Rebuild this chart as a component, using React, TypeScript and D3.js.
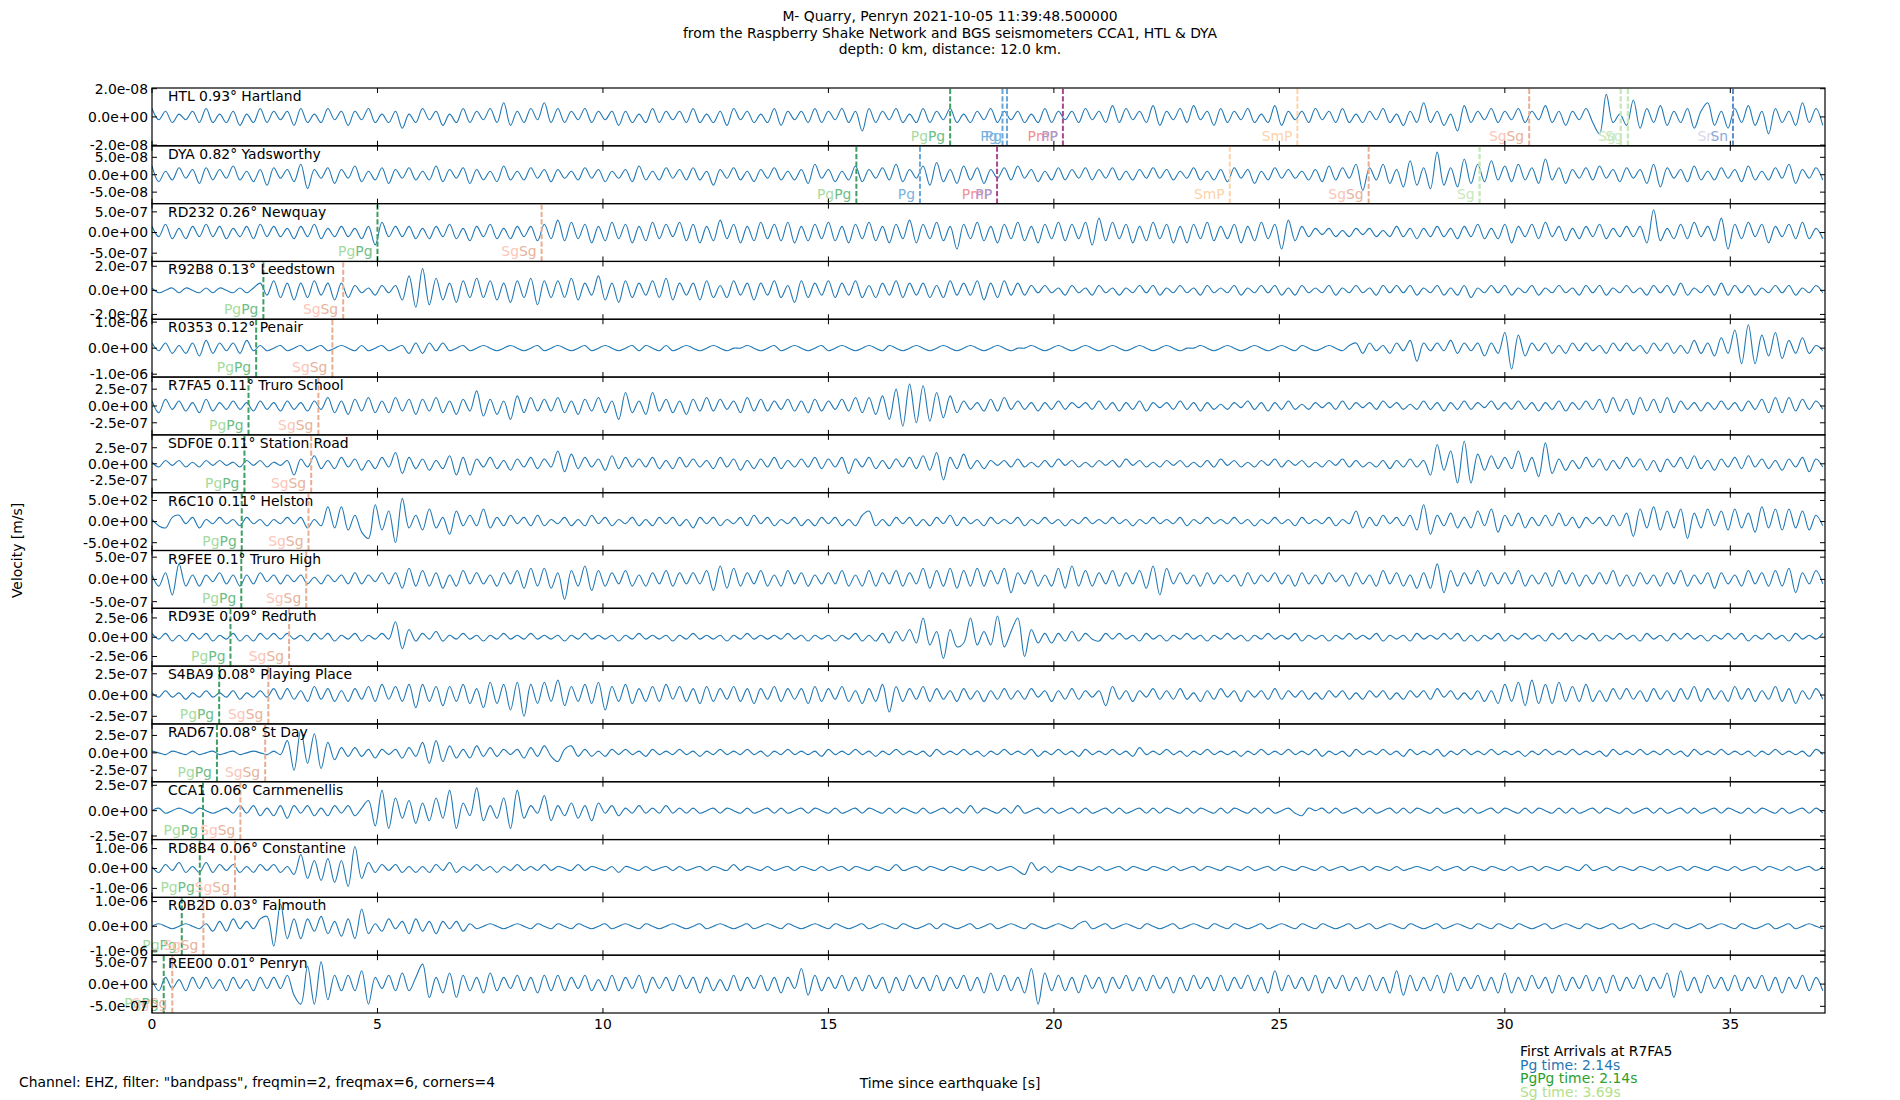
import React from "react";
import * as d3 from "d3";

const width = 1900;
const height = 1100;
const plot = { left: 152, right: 1825, top: 88, bottom: 1013 };
const DT = 0.15; // seconds between read-off samples
const X_MAX = 37.1;
const FONT = "DejaVu Sans";
const FS = 13.9;

const stationLabels = [
  "HTL 0.93° Hartland", "DYA 0.82° Yadsworthy", "RD232 0.26° Newquay", "R92B8 0.13° Leedstown",
  "R0353 0.12° Penair", "R7FA5 0.11° Truro School", "SDF0E 0.11° Station Road", "R6C10 0.11° Helston",
  "R9FEE 0.1° Truro High", "RD93E 0.09° Redruth", "S4BA9 0.08° Playing Place", "RAD67 0.08° St Day",
  "CCA1 0.06° Carnmenellis", "RD8B4 0.06° Constantine", "R0B2D 0.03° Falmouth", "REE00 0.01° Penryn",
];
const tickValues = [2e-8, 5e-8, 5e-7, 2e-7, 1e-6, 2.5e-7, 2.5e-7, 5e2, 5e-7, 2.5e-6, 2.5e-7, 2.5e-7, 2.5e-7, 1e-6, 1e-6, 5e-7];
const yLimits = [2.05e-8, 8.3e-8, 7e-7, 2.4e-7, 1.11e-6, 4.3e-7, 4.5e-7, 685, 6.5e-7, 3.75e-6, 3.4e-7, 4.15e-7, 2.85e-7, 1.45e-6, 1.17e-6, 6.5e-7];
const xTicks = [0, 5, 10, 15, 20, 25, 30, 35];

// velocities in tenths of each station's tick value, one sample every DT seconds
const htl = [
  3,-1,2,-2,1,-1,2,-2,3,-2,1,-2,2,-3,1,-2,3,-2,2,-1,
  2,-3,3,-2,1,-2,3,-1,2,-3,2,-1,3,-2,1,-2,2,-4,1,-2,
  3,-1,2,-3,1,-2,3,-2,2,-1,3,-2,5,-3,2,-2,3,-1,5,-2,
  3,-2,2,-1,3,-2,2,-1,2,-3,2,-2,1,-2,3,-2,2,-1,2,-2,
  3,-2,1,-2,2,-3,3,-1,2,-2,1,-2,3,-3,2,-1,2,-2,3,-2,
  2,-1,3,-2,2,-5,3,-2,2,-1,3,-2,1,-2,3,-2,2,-1,3,-2,
  1,-2,2,-1,3,-2,2,-1,2,-2,1,-2,3,-2,2,-1,2,-2,3,-1,
  2,-2,4,-2,3,-1,2,-2,4,-3,2,-1,3,-2,4,-1,2,-3,3,-2,
  2,-1,3,-2,1,-2,4,-3,2,-1,2,-2,3,-1,2,-2,3,-2,1,-2,
  2,-1,3,-2,1,-3,2,-2,5,-2,2,-3,1,-5,4,-2,2,-1,3,-2,
  2,-1,3,-2,2,-1,4,-2,2,-3,2,-1,3,-2,-6,8,-2,1,-3,6,
  -4,3,-2,4,-3,2,-2,3,-4,2,5,-3,2,-4,3,-2,4,-3,2,-6,
  3,-2,2,-3,5,-2,3,-3,
];
const dya = [
  5,-4,2,-3,4,-2,3,-5,4,-3,3,-2,5,-3,2,-4,3,-6,4,-2,
  3,-4,6,-8,3,-2,4,-5,3,-2,5,-4,2,-3,4,-5,3,-2,4,-3,
  2,-3,5,-4,3,-2,4,-5,3,-3,2,-4,5,-3,2,-3,4,-2,3,-4,
  3,-2,2,-3,4,-2,3,-4,2,-2,3,-4,5,-3,2,-3,4,-2,3,-3,
  4,-3,2,-6,3,-2,4,-3,2,-4,3,-2,4,-3,2,-3,3,-5,6,-2,
  3,-4,2,-3,5,-4,3,-2,4,-3,6,-4,3,-2,5,-6,7,-4,3,-5,
  5,-3,4,-5,3,-2,4,-3,5,-2,3,-4,2,-3,4,-3,3,-2,4,-3,
  3,-2,4,-3,2,-3,3,-2,4,-2,3,-3,2,-2,4,-3,2,-3,3,-4,
  4,-2,3,-5,2,-3,4,-2,3,-2,2,-3,3,-4,5,-3,4,-2,6,-9,
  4,-3,6,-5,3,-7,8,-6,4,-8,13,-6,4,-7,9,-5,6,-4,8,-3,
  5,-4,6,-3,4,-5,9,-3,4,-5,3,-2,4,-3,5,-2,3,-4,4,-2,
  3,-5,6,-7,4,-2,3,-4,5,-3,2,-3,4,-2,3,-4,5,-3,2,-3,
  4,-2,6,-5,3,-2,4,-3,
];
const rd232 = [
  3,-2,4,-3,2,-3,3,-2,4,-2,3,-3,2,-2,3,-3,4,-2,3,-2,
  2,-3,3,-2,4,-3,2,-2,3,-2,2,-3,3,-6,5,-2,3,-2,3,-3,
  2,-3,3,-2,4,-3,2,-4,3,-2,4,-3,2,-3,3,-2,3,-4,4,-3,
  6,-4,5,-3,4,-5,3,-4,5,-3,4,-5,3,-4,5,-3,4,-2,5,-4,
  4,-5,3,-4,6,-3,4,-5,3,-4,5,-3,4,-4,5,-5,3,-4,4,-3,
  5,-4,3,-5,4,-3,5,-4,3,-5,4,-3,6,-5,4,-3,5,-4,3,-8,
  4,-3,5,-4,3,-5,4,-3,5,-4,3,-5,4,-3,5,-4,4,-3,5,-6,
  7,-4,5,-3,4,-5,3,-4,5,-3,4,-5,3,-5,4,-3,5,-4,3,-3,
  4,-5,3,-4,5,-3,4,-8,6,-4,3,-2,2,-1,2,-2,1,-2,2,-1,
  2,-2,1,-2,3,-2,2,-3,2,-2,3,-2,2,-3,3,-2,4,-3,2,-3,
  4,-5,3,-2,4,-3,5,-2,3,-4,2,-3,3,-2,4,-3,2,-2,3,-2,
  3,-5,11,-4,2,-3,4,-3,5,-2,3,-4,7,-8,4,-3,5,-2,4,-5,
  3,-2,4,-3,5,-3,2,-3,
];
const r92b8 = [
  1,-1,0,1,-1,1,0,-1,1,-1,1,0,-1,1,-1,1,3,-2,4,-3,
  3,-4,3,-3,4,-2,3,-4,3,-3,2,-1,1,-2,2,-1,2,-4,6,-7,
  9,-6,5,-4,3,-5,4,-3,5,-3,4,-4,3,-5,4,-3,5,-6,4,-3,
  4,-3,5,-4,3,-2,6,-4,3,-5,4,-3,3,-2,4,-3,5,-4,3,-2,
  3,-4,4,-3,2,-3,4,-2,3,-4,3,-2,4,-3,2,-5,4,-3,3,-2,
  4,-3,3,-2,4,-3,2,-3,3,-2,4,-3,3,-2,3,-3,2,-3,4,-2,
  3,-2,4,-4,3,-3,4,-2,3,-2,2,-1,2,-1,1,-2,2,-1,1,-2,
  2,-1,1,-2,1,-1,2,-1,2,-2,1,-1,2,-1,1,-2,2,-1,1,-1,
  2,-2,1,-1,2,-1,2,-2,1,-2,2,-1,1,-1,2,-2,1,-1,2,-1,
  1,-2,2,-1,2,-1,2,-2,1,-1,2,-2,1,-2,2,-3,1,-1,2,-1,
  2,-2,1,-1,2,-2,1,-1,2,-1,1,-2,2,-1,2,-2,1,-1,2,-1,
  1,-2,2,-1,2,-2,3,-2,1,-1,2,-2,3,-2,2,-1,2,-2,1,-1,
  2,-1,2,-2,1,-1,2,-1,
];
const r0353 = [
  2,-1,2,-2,1,-2,2,-3,3,-2,2,-1,2,-2,3,-1,1,-1,0,1,
  -1,0,1,-1,0,1,-1,0,1,0,-1,1,-1,0,1,-1,0,1,-2,2,
  -2,2,-1,2,-1,0,1,-1,0,1,0,-1,0,1,0,-1,0,1,-1,0,
  1,0,-1,0,1,-1,0,1,0,-1,0,1,-1,1,0,-1,1,-1,0,1,
  0,-1,0,1,0,-1,0,0,1,0,-1,0,1,-1,0,1,0,-1,0,1,
  -1,0,1,0,-1,0,1,0,-1,1,0,-1,0,1,0,-1,0,1,0,-1,
  0,1,0,-1,0,1,0,-1,0,0,1,0,-1,0,1,0,-1,0,1,0,
  -1,0,1,0,-1,0,1,0,-1,0,1,0,-1,0,0,1,0,-1,0,1,
  0,-1,0,1,0,-1,0,1,0,-1,1,0,-1,0,1,0,-1,1,2,-2,
  2,-1,1,-2,2,-1,3,-5,2,-1,2,-1,3,-2,2,-1,2,-3,2,-2,
  6,-8,5,-3,2,-1,2,-2,1,-2,2,-1,2,-1,1,-2,2,-1,2,-1,
  1,-2,2,-1,2,-2,1,-2,3,-2,2,-3,4,-2,7,-6,9,-6,5,-3,
  6,-4,3,-2,4,-2,1,-1,
];
const r7fa5 = [
  3,-4,4,-2,3,-3,2,-4,4,-3,2,-2,3,-2,2,-3,3,-2,2,-3,
  3,-2,2,-3,3,-2,5,-4,3,-5,4,-3,5,-4,3,-4,5,-3,4,-5,
  4,-3,5,-4,3,-5,4,-3,9,-6,4,-5,3,-8,6,-4,5,-3,4,-3,
  5,-4,3,-5,4,-3,5,-4,3,-8,8,-4,3,-5,8,-3,4,-4,3,-5,
  4,-3,5,-3,4,-2,3,-4,5,-3,4,-3,3,-2,4,-3,3,-4,4,-3,
  3,-2,4,-3,5,-4,5,-5,6,-8,10,-12,13,-10,12,-9,8,-7,6,-4,
  3,-2,2,-3,4,-3,5,-2,3,-2,2,-3,2,-2,3,-2,2,-1,2,-2,
  3,-2,2,-3,2,-2,3,-3,2,-1,2,-2,3,-2,2,-3,2,-2,1,-2,
  2,-1,3,-2,2,-3,2,-2,3,-2,1,-2,2,-1,2,-2,3,-2,2,-1,
  2,-2,3,-1,2,-2,1,-2,3,-2,2,-3,2,-2,3,-2,2,-1,3,-2,
  2,-2,3,-2,2,-3,2,-2,3,-3,2,-2,3,-2,4,-4,5,-3,4,-5,
  5,-3,4,-4,5,-4,3,-2,2,-3,2,-2,3,-2,2,-3,3,-2,4,-4,
  5,-4,5,-3,4,-2,3,-2,
];
const sdf0e = [
  1,-2,2,-1,2,-2,1,-2,2,-1,2,-1,1,-2,2,-1,2,-2,1,-1,
  2,-7,3,-2,5,-3,2,-3,4,-2,3,-4,2,-3,4,-2,7,-6,4,-3,
  3,-4,2,-3,5,-7,4,-7,3,-2,4,-3,2,-4,3,-2,4,-3,3,-2,
  8,-5,6,-3,4,-2,3,-4,5,-3,4,-2,3,-2,4,-3,2,-3,4,-2,
  3,-2,2,-3,4,-2,3,-4,2,-3,3,-2,4,-3,2,-2,3,-2,4,-3,
  3,-2,4,-6,3,-2,4,-3,2,-3,3,-2,4,-3,5,-4,7,-10,4,-3,
  6,-3,2,-3,2,-1,2,-2,3,-2,1,-2,2,-2,3,-1,2,-2,1,-2,
  2,-1,2,-2,3,-1,2,-2,1,-2,2,-1,2,-2,1,-2,2,-2,3,-1,
  2,-2,1,-2,2,-1,3,-2,2,-1,2,-2,1,-2,2,-1,3,-2,2,-2,
  1,-2,2,-3,2,-2,3,-2,2,-7,12,-4,8,-12,14,-12,6,-4,5,-3,
  4,-3,8,-5,4,-8,13,-6,3,-4,2,-3,4,-2,3,-4,2,-3,4,-2,
  3,-4,2,-5,3,-2,4,-3,5,-3,2,-4,3,-2,4,-3,5,-2,3,-3,
  2,-4,3,-2,4,-5,3,-2,
];
const r6c10 = [
  1,-2,-3,2,3,-1,2,-3,1,-1,2,-1,1,-2,2,-1,1,-2,1,-1,
  2,-1,2,-3,1,-2,7,-3,7,-4,3,-5,-8,8,-4,5,-10,11,-3,3,
  -4,6,-3,2,-6,5,-2,3,-2,6,-3,2,-2,3,-1,2,-2,3,-2,1,
  -1,2,-2,1,-2,3,-1,2,-2,1,-1,2,-2,1,-2,2,-1,2,-2,1,
  -3,2,-1,2,-2,1,-1,2,-2,3,-1,2,-2,1,-1,2,-2,1,-2,2,
  -1,2,-2,1,-2,3,5,-2,1,-2,2,-1,2,-2,1,-2,2,-1,3,-2,
  2,-1,1,-2,2,-1,1,-1,2,-2,1,-1,2,-1,1,-2,1,-1,2,-1,
  1,-1,2,-1,1,-2,1,-1,2,-1,1,-1,2,-2,1,-1,2,-1,1,-1,
  2,-1,1,-2,1,-1,2,-1,1,-2,2,-1,1,-1,2,-2,1,-1,5,-3,
  2,-2,3,-1,2,-2,3,-4,8,-6,3,-2,4,-3,2,-3,5,-2,6,-5,
  3,-2,4,-3,2,-2,3,-2,4,-2,2,-3,2,-1,2,-2,3,-2,4,-7,
  6,-3,7,-4,5,-3,6,-8,4,-3,6,-2,5,-4,6,-3,4,-5,7,-3,
  6,-4,6,-3,5,-4,3,-2,
];
const r9fee = [
  2,-3,3,-7,7,-3,2,-3,2,-1,3,-2,2,-3,2,-2,3,-1,2,-2,
  2,-1,2,-2,1,-2,2,-1,2,-2,3,-2,2,-1,3,-2,3,-4,5,-3,
  4,-3,3,-4,2,-3,4,-2,3,-2,2,-3,3,-2,4,-4,5,-3,5,-4,
  3,-9,4,-3,6,-5,4,-3,3,-2,4,-3,2,-3,3,-2,4,-3,3,-2,
  3,-2,4,-5,6,-4,5,-3,3,-2,4,-3,2,-3,4,-2,3,-3,2,-2,
  3,-2,4,-3,2,-3,4,-3,3,-2,4,-3,3,-2,5,-4,4,-3,5,-4,
  4,-3,5,-3,4,-2,5,-6,3,-2,4,-3,2,-3,5,-4,6,-3,4,-3,
  3,-2,4,-3,3,-2,4,-4,6,-7,5,-2,3,-2,2,-3,3,-2,2,-1,
  2,-3,3,-2,2,-1,3,-2,2,-3,3,-2,2,-2,3,-1,2,-3,3,-2,
  2,-3,4,-2,3,-3,2,-4,3,-4,7,-6,4,-3,3,-2,4,-3,3,-2,
  3,-2,4,-3,2,-2,3,-3,4,-2,3,-3,2,-2,3,-2,4,-3,2,-3,
  3,-2,2,-3,3,-2,4,-3,2,-2,3,-4,3,-2,2,-3,4,-2,3,-3,
  4,-3,5,-6,3,-2,4,-2,
];
const rd93e = [
  2,-1,2,-2,1,-2,2,-1,2,-2,1,-1,2,-2,1,-2,2,-1,2,-1,
  2,-1,1,-2,2,-1,2,-2,1,-1,2,-2,1,-1,2,-1,8,-6,4,-2,
  2,-1,3,-2,1,-1,2,-1,1,-2,1,-1,2,-1,1,-1,2,-1,1,-1,
  1,-2,1,-1,2,-1,1,-1,1,-2,1,-1,2,-1,1,-1,1,-2,1,-1,
  2,-1,1,-1,1,-2,1,-1,2,-1,1,-1,1,-1,2,-1,1,-2,1,-1,
  1,-2,1,-1,2,-2,1,-2,2,-3,3,-2,4,-3,10,-4,3,-11,4,-5,
  -3,10,-4,3,-4,11,-5,3,10,-10,4,-3,2,-3,2,-2,3,-2,2,-1,
  -2,2,-1,2,-1,1,-2,2,-1,1,-2,1,-1,2,-1,1,-2,1,-1,2,
  -1,1,-2,1,-1,2,-1,1,-1,2,-2,1,-1,1,-2,1,-1,2,-1,1,
  -1,2,-2,1,-1,1,-2,2,-1,1,-1,2,-1,2,-2,1,-2,1,-1,2,
  -2,1,-1,2,-1,1,-2,2,-1,2,-2,1,-1,2,-2,1,-1,2,-1,1,
  -2,2,-1,1,-2,2,-1,2,-1,1,-2,1,-1,2,-1,2,-2,1,-1,2,
  -1,1,-2,2,-1,1,-1,2,
];
const s4ba9 = [
  1,-1,2,-1,1,-2,1,-1,2,-1,1,-1,2,-2,1,-1,2,-1,3,-2,
  3,-2,2,-3,4,-2,3,-3,2,-3,3,-2,4,-3,5,-2,4,-3,5,-6,
  5,-3,4,-5,4,-3,5,-4,3,-6,6,-4,5,-7,6,-10,5,-4,6,-3,
  7,-5,4,-3,5,-4,6,-7,4,-3,5,-4,3,-3,4,-3,5,-2,4,-3,
  3,-4,4,-3,3,-2,4,-3,3,-4,3,-2,4,-3,3,-2,3,-4,4,-3,
  3,-2,4,-3,2,-4,3,-3,5,-8,4,-3,3,-2,4,-3,3,-2,2,-3,
  3,-2,2,-3,2,-2,3,-2,2,-2,3,-1,2,-3,2,-2,3,-2,2,-1,
  2,-5,4,-2,2,-3,2,-1,3,-2,2,-2,3,-2,1,-3,2,-2,3,-1,
  2,-3,2,-1,2,-2,3,-2,2,-1,2,-2,1,-2,2,-1,2,-2,1,-2,
  2,-1,2,-2,1,-2,2,-1,2,-2,3,-1,2,-2,1,-2,2,-3,2,-4,
  5,-3,6,-5,7,-4,5,-4,6,-3,4,-3,5,-3,2,-3,3,-2,3,-2,
  2,-3,3,-2,2,-3,3,-2,4,-3,3,-2,2,-3,4,-2,3,-3,2,-2,
  4,-3,3,-4,2,-2,3,-2,
];
const rad67 = [
  1,0,-1,1,0,-1,1,-1,0,1,-1,0,1,-1,0,1,0,-1,1,-1,
  7,-10,13,-6,11,-9,6,-4,3,-2,3,-2,2,-3,2,-1,2,-3,3,-2,
  6,-6,7,-5,4,-3,2,-3,4,-2,3,-2,2,-1,2,-3,3,-2,4,-2,
  -5,2,4,-2,2,-2,1,-2,2,-1,2,-1,1,-2,2,-1,1,-1,2,-1,
  1,-2,1,-1,2,-1,1,-1,2,-1,1,-2,1,-1,2,-1,1,-1,1,-2,
  2,-1,1,-1,2,-1,1,-2,1,-1,2,-1,1,-1,1,-2,2,-1,1,-1,
  2,-1,1,-2,1,-1,2,-1,1,-1,2,-2,1,-1,2,-1,1,-2,2,-1,
  1,-1,2,-1,1,-2,3,-1,1,-1,2,-1,1,-2,1,-1,2,-1,1,-1,
  1,-2,1,-1,2,-1,1,-1,2,-1,1,-1,2,-2,1,-1,1,-2,2,-1,
  1,-1,2,-1,1,-2,2,-1,1,-1,2,-2,1,-1,2,-1,1,-1,2,-1,
  1,-1,1,-2,1,-1,2,-1,1,-1,2,-1,1,-1,1,-2,2,-1,1,-1,
  2,-1,1,-1,2,-1,1,-2,2,-1,1,-1,2,-1,1,-1,1,-2,1,-1,
  2,-1,1,-1,1,-2,2,-1,
];
const cca1 = [
  0,1,-1,0,1,0,-1,1,0,-1,0,1,-1,2,-1,2,-2,1,-2,2,
  -3,2,-1,2,-2,1,-2,2,-1,2,-2,1,4,-6,8,-7,5,-3,4,-5,
  3,-4,5,-3,8,-7,3,-2,9,-4,2,-3,5,-7,8,-3,2,-1,6,-4,
  2,-2,3,-3,2,-4,3,-1,2,-2,1,-1,2,-1,1,-1,2,-1,1,-1,
  1,-1,0,1,-1,1,0,-1,1,-1,0,1,-1,1,-1,0,1,-1,1,0,
  -1,1,-1,0,1,-1,1,0,-1,1,-1,1,0,-1,1,-1,0,1,-1,1,
  -1,2,-1,1,0,-1,1,-1,2,-1,0,1,-1,1,-1,0,1,-1,1,-1,
  0,1,-1,1,-1,0,1,-1,1,-1,1,0,-1,1,-1,1,0,-1,1,-1,
  1,0,-1,1,-1,1,-1,0,1,-1,-2,1,0,1,-1,1,-1,0,1,-1,
  1,-1,0,1,-1,1,-1,1,0,-1,1,-1,0,1,-1,1,-1,0,1,-1,
  1,0,-1,1,-1,1,0,-1,1,-1,1,-1,0,1,-1,1,0,-1,1,-1,
  0,1,-1,1,-1,0,1,-1,1,-1,0,1,-1,1,0,-1,1,-1,1,0,
  -1,1,-1,0,1,-1,1,-1,
];
const rd8b4 = [
  1,-2,2,-1,3,-2,1,-2,3,-2,2,-1,2,-2,1,-2,2,-1,2,-2,
  1,-3,7,-5,4,-6,5,-7,4,-9,11,-5,3,-2,2,-1,2,-2,1,-2,
  1,-2,2,-1,3,-2,1,-1,2,-1,1,-2,1,-1,2,-1,1,-1,2,-1,
  1,0,-1,2,-1,1,0,-1,1,-2,1,0,-1,1,-1,0,1,-1,1,-1,
  0,1,-1,1,0,-1,2,-1,1,0,-1,1,-1,0,1,-1,1,0,-1,1,
  -1,0,1,-1,1,0,-1,1,0,-1,2,-1,0,1,-1,1,0,-1,1,0,
  -1,1,0,-1,1,-1,0,1,-1,-3,3,-1,1,-2,1,0,-1,1,0,-1,
  1,-1,0,1,-1,1,0,-1,1,0,-1,1,-1,0,1,-1,1,0,-1,1,
  0,-1,1,-1,0,1,-1,1,0,-1,1,0,-1,1,-1,0,1,-1,0,1,
  -1,1,0,-1,1,-1,0,1,0,-1,1,-1,0,1,-1,1,0,-1,1,0,
  -1,1,-1,0,1,-1,1,0,-1,1,0,-1,2,-1,0,1,-1,1,0,-1,
  1,0,-1,1,-1,0,1,-1,1,0,-1,1,0,-1,1,-1,0,1,-1,1,
  0,-1,1,-1,0,1,-1,1,
];
const r0b2d = [
  0,1,0,-1,0,1,0,-1,1,-2,2,-2,3,-1,2,-1,3,4,-8,9,
  -5,3,-5,3,-2,4,-3,2,-4,3,-5,7,-3,1,-2,3,-1,2,-3,3,
  -2,2,-3,2,-1,2,-2,1,-1,0,1,0,-1,0,1,0,-1,1,0,-1,
  1,0,-1,1,0,-1,0,1,-1,0,1,0,-1,1,0,-1,0,1,0,-1,
  0,1,-1,0,1,0,-1,0,1,-1,0,1,0,-1,1,0,-1,0,1,0,
  -1,1,0,-1,0,1,-1,0,1,0,-1,1,0,-1,0,1,-1,1,0,-1,
  0,1,-1,0,1,-1,0,1,0,-1,1,0,-1,0,1,0,-1,1,2,-1,
  0,1,-1,0,1,0,-1,1,0,-1,0,1,-1,0,1,0,-1,1,0,-1,
  1,0,-1,0,1,-1,0,1,0,-1,1,0,-1,1,0,-1,0,1,-1,0,
  1,-1,0,1,0,-1,1,0,-1,0,1,-1,0,1,0,-1,1,0,-1,1,
  0,-1,1,0,-1,0,1,-1,0,1,0,-1,1,0,-1,0,1,-1,0,1,
  -1,0,1,0,-1,1,0,-1,0,1,-1,0,1,0,-1,1,0,-1,0,1,
  -1,0,1,-1,0,1,0,-1,
];
const ree00 = [
  2,-3,3,-2,2,-3,3,-2,3,-2,2,-3,3,-2,2,-3,3,-2,3,-2,
  4,-5,-9,8,-9,10,-7,4,-3,4,-3,6,-9,3,-2,4,-3,5,-3,3,
  9,-6,3,-4,5,-6,4,-3,3,-4,5,-3,3,-2,4,-3,3,-4,4,-3,
  4,-3,3,-2,4,-3,2,-3,4,-3,3,-2,4,-4,3,-2,3,-3,4,-2,
  3,-4,3,-3,2,-3,4,-3,3,-2,4,-3,3,-4,3,-2,7,-5,4,-3,
  3,-2,4,-3,3,-3,4,-2,3,-4,3,-3,4,-2,3,-3,4,-3,3,-2,
  4,-3,3,-4,5,-3,4,-3,3,-4,7,-9,5,-3,4,-3,3,-4,4,-2,
  3,-4,3,-2,4,-3,3,-3,4,-2,3,-4,3,-3,4,-2,3,-3,4,-3,
  3,-2,4,-3,3,-4,6,-3,4,-2,3,-3,4,-4,3,-2,4,-3,3,-3,
  4,-3,3,-4,6,-5,4,-3,3,-3,4,-4,5,-3,3,-2,4,-3,3,-4,
  5,-4,3,-3,4,-2,3,-4,4,-3,3,-2,4,-3,3,-4,4,-3,3,-2,
  4,-3,3,-2,5,-6,6,-3,3,-4,4,-2,3,-3,4,-3,3,-2,4,-3,
  3,-4,3,-2,4,-3,3,-3,
];
const seismograms = [htl, dya, rd232, r92b8, r0353, r7fa5, sdf0e, r6c10, r9fee, rd93e, s4ba9, rad67, cca1, rd8b4, r0b2d, ree00];

// arrival times [s]
const pgpgTimes = [17.7, 15.62, 5.0, 2.47, 2.31, 2.14, 2.05, 1.99, 1.98, 1.74, 1.49, 1.44, 1.13, 1.06, 0.66, 0.26];
const sgsgTimes = [30.54, 26.98, 8.64, 4.24, 4.0, 3.69, 3.53, 3.47, 3.42, 3.04, 2.58, 2.51, 1.96, 1.84, 1.14, 0.45];
const htlPhases = ["Pg", "Pg", "PmP", "SmP", "Sg", "Sg", "Sn"];
const htlTimes = [18.86, 18.96, 20.2, 25.4, 32.57, 32.73, 35.06];
const dyaPhases = ["Pg", "PmP", "SmP", "Sg"];
const dyaTimes = [17.03, 18.74, 23.9, 29.44];

const firstArrivals = [
  { text: "First Arrivals at R7FA5", color: "#000000" },
  { text: "Pg time: 2.14s", color: "#1f77b4" },
  { text: "PgPg time: 2.14s", color: "#2ca02c" },
  { text: "Sg time: 3.69s", color: "#b2df8a" },
];

type Label = { parts: [string, string][]; dx: number };
const phaseStyle: Record<string, { line: string; w: number; labels: Label[] }> = {
  PgPg: { line: "#3f9e63", w: 2, labels: [{ parts: [["Pg", "#a6dba0"], ["Pg", "#6dbd86"]], dx: 0 }] },
  SgSg: { line: "#e8ae92", w: 2, labels: [{ parts: [["Sg", "#fcc5b8"], ["Sg", "#e6b39b"]], dx: 0 }] },
  Pg: { line: "#6aa6d8", w: 2, labels: [{ parts: [["Pg", "#7db2dd"]], dx: 0 }] },
  PmP: { line: "#a8488e", w: 2, labels: [{ parts: [["PmP", "#f29191"]], dx: 0 }, { parts: [["PP", "#a99ad2"]], dx: 0 }] },
  SmP: { line: "#fdd3aa", w: 2, labels: [{ parts: [["SmP", "#fdd3aa"]], dx: 0 }] },
  Sg: { line: "#c8e8bb", w: 2.4, labels: [{ parts: [["Sg", "#c8e8bb"]], dx: 0 }] },
  Sn: { line: "#5e8dcc", w: 2, labels: [{ parts: [["Sn", "#dcd6ec"]], dx: -13 }, { parts: [["Sn", "#8ea8d8"]], dx: 0 }] },
};

const sci = (v: number) =>
  v.toExponential(1).replace(/e([+-])(\d+)$/, (_m, s, d) => `e${s}${d.padStart(2, "0")}`);

export default function App() {
  const x = d3.scaleLinear().domain([0, X_MAX]).range([plot.left, plot.right]);
  const band = d3.scaleBand<number>().domain(d3.range(seismograms.length)).range([plot.top, plot.bottom]);
  const ph = band.bandwidth();

  const panelArrivals = (i: number): [string, number][] => {
    const list: [string, number][] = [];
    if (i === 0) htlPhases.forEach((p, k) => list.push([p, htlTimes[k]]));
    if (i === 1) dyaPhases.forEach((p, k) => list.push([p, dyaTimes[k]]));
    list.push(["PgPg", pgpgTimes[i]]);
    list.push(["SgSg", sgsgTimes[i]]);
    return list;
  };

  const txt = { fontFamily: FONT, fontSize: FS };

  return (
    <div style={{ position: "absolute", left: 0, top: 0 }}>
      <svg width={width} height={height} viewBox={`0 0 ${width} ${height}`} style={{ display: "block", background: "#fff" }}>
        <defs>
          {seismograms.map((_, i) => (
            <clipPath id={`clip${i}`} key={i}>
              <rect x={plot.left} y={band(i)!} width={plot.right - plot.left} height={ph} />
            </clipPath>
          ))}
        </defs>

        {/* titles */}
        <g {...txt} textAnchor="middle" fill="#000">
          <text x={950} y={21}>M- Quarry, Penryn 2021-10-05 11:39:48.500000</text>
          <text x={950} y={37.5}>from the Raspberry Shake Network and BGS seismometers CCA1, HTL &amp; DYA</text>
          <text x={950} y={54}>depth: 0 km, distance: 12.0 km.</text>
        </g>

        {seismograms.map((trace, i) => {
          const top = band(i)!;
          const bottom = top + ph;
          const unit = tickValues[i] / 10;
          const y = d3.scaleLinear().domain([-yLimits[i], yLimits[i]]).range([bottom, top]);
          const line = d3
            .line<number>()
            .x((_d, k) => x(k * DT))
            .y((d) => y(d * unit))
            .curve(d3.curveCatmullRom.alpha(0.5));
          const yt = [tickValues[i], 0, -tickValues[i]];
          return (
            <g key={i}>
              <path d={line(trace)!} fill="none" stroke="#1f77b4" strokeWidth={1.1} clipPath={`url(#clip${i})`} />
              {/* arrival markers */}
              {panelArrivals(i).map(([phase, t], k) => {
                const st = phaseStyle[phase];
                const px = x(t);
                return (
                  <g key={k}>
                    <line x1={px} x2={px} y1={bottom} y2={top} stroke={st.line} strokeWidth={st.w} strokeDasharray="5.2,2.2" />
                    {st.labels.map((lb, j) => (
                      <text key={j} x={px - 5 + lb.dx} y={bottom - 5} textAnchor="end" {...txt}>
                        {lb.parts.map(([s, c], m) => (
                          <tspan key={m} fill={c}>{s}</tspan>
                        ))}
                      </text>
                    ))}
                  </g>
                );
              })}
              {/* frame */}
              <rect x={plot.left} y={top} width={plot.right - plot.left} height={ph} fill="none" stroke="#000" strokeWidth={1.2} />
              {/* x ticks, inward top and bottom */}
              {xTicks.map((v) => (
                <g key={v} stroke="#000" strokeWidth={1}>
                  <line x1={x(v)} x2={x(v)} y1={top} y2={top + 5} />
                  <line x1={x(v)} x2={x(v)} y1={bottom} y2={bottom - 5} />
                </g>
              ))}
              {/* y ticks, inward left and right */}
              {yt.map((v, k) => (
                <g key={k}>
                  <line x1={plot.left} x2={plot.left + 5} y1={y(v)} y2={y(v)} stroke="#000" />
                  <line x1={plot.right} x2={plot.right - 5} y1={y(v)} y2={y(v)} stroke="#000" />
                  <text x={plot.left - 4} y={y(v)} dy="0.35em" textAnchor="end" {...txt}>{sci(v)}</text>
                </g>
              ))}
              <text x={plot.left + 16} y={top + 13} {...txt}>{stationLabels[i]}</text>
            </g>
          );
        })}

        {/* x tick labels */}
        {xTicks.map((v) => (
          <text key={v} x={x(v)} y={plot.bottom + 16} textAnchor="middle" {...txt}>{v}</text>
        ))}

        <text transform={`translate(22,${(plot.top + plot.bottom) / 2}) rotate(-90)`} textAnchor="middle" {...txt}>Velocity [m/s]</text>
        <text x={19} y={1087} {...txt}>Channel: EHZ, filter: "bandpass", freqmin=2, freqmax=6, corners=4</text>
        <text x={950} y={1088} textAnchor="middle" {...txt}>Time since earthquake [s]</text>
        {firstArrivals.map((a, k) => (
          <text key={k} x={1520} y={1056 + k * 13.6} fill={a.color} {...txt}>{a.text}</text>
        ))}
      </svg>
    </div>
  );
}
